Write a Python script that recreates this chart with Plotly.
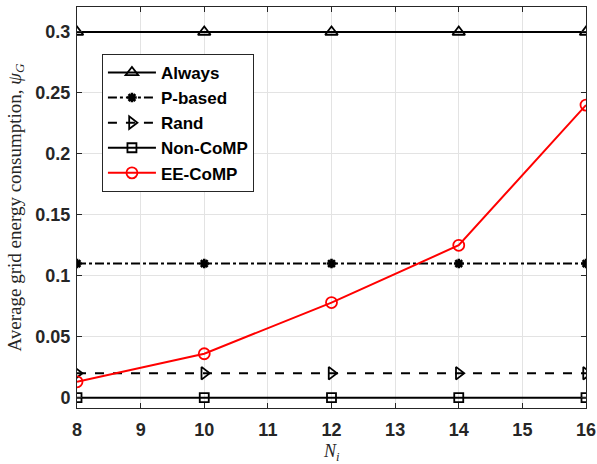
import plotly.graph_objects as go

x_vals = [8, 10, 12, 14, 16]
always = [0.3, 0.3, 0.3, 0.3, 0.3]
p_based = [0.11, 0.11, 0.11, 0.11, 0.11]
rand = [0.02, 0.02, 0.02, 0.02, 0.02]
non_comp = [0.0, 0.0, 0.0, 0.0, 0.0]
ee_comp = [0.013, 0.036, 0.078, 0.125, 0.24]

x_ticks = [8, 9, 10, 11, 12, 13, 14, 15, 16]
y_ticks = [0, 0.05, 0.1, 0.15, 0.2, 0.25, 0.3]
y_tick_text = ["0", "0.05", "0.1", "0.15", "0.2", "0.25", "0.3"]

fig = go.Figure()

def add(name, y, color, dash, symbol, size, mlw=1.8):
    fig.add_trace(go.Scatter(
        x=x_vals, y=y, name=name, mode="lines+markers",
        line=dict(color=color, width=2, dash=dash),
        marker=dict(symbol=symbol, size=size, color=color,
                    line=dict(color=color, width=mlw)),
    ))

add("Always", always, "black", "solid", "triangle-up-open", 11)
add("P-based", p_based, "black", "dashdot", "asterisk-open", 8, 2.6)
add("Rand", rand, "black", "dash", "triangle-right-open", 11)
add("Non-CoMP", non_comp, "black", "solid", "square-open", 9)
add("EE-CoMP", ee_comp, "red", "solid", "circle-open", 11)

tick_font = dict(family="Liberation Sans, Arial", size=18, color="#262626", weight="bold")
axis_common = dict(
    showline=True, linecolor="#262626", linewidth=1, mirror="ticks",
    ticks="inside", ticklen=5, tickcolor="#262626",
    showgrid=True, gridcolor="#e3e3e3", gridwidth=1, zeroline=False,
    tickfont=tick_font, automargin=False,
)

fig.update_layout(
    width=597, height=464,
    margin=dict(l=77, r=11, t=7, b=56, autoexpand=False),
    paper_bgcolor="white", plot_bgcolor="white",
    xaxis=dict(range=[8, 16], tickvals=x_ticks, ticklabelstandoff=5, **axis_common),
    yaxis=dict(range=[-0.0085, 0.3205], tickvals=y_ticks, ticktext=y_tick_text,
               ticklabelstandoff=2, **axis_common),
    showlegend=True,
    legend=dict(
        x=0.049, y=0.883, xanchor="left", yanchor="top",
        bgcolor="white", bordercolor="#262626", borderwidth=1,
        font=dict(family="Liberation Sans, Arial", size=17, color="black", weight="bold"),
        tracegroupgap=0, itemwidth=48,
    ),
    annotations=[
        dict(text="Average grid energy consumption, <i>ψ<sub>G</sub></i>",
             x=0, y=0.5, xref="paper", yref="paper", xanchor="center", yanchor="middle",
             xshift=-62, showarrow=False, textangle=-90,
             font=dict(family="Liberation Serif, DejaVu Serif", size=19, color="#262626")),
        dict(text="<i>N<sub>i</sub></i>",
             x=0.5, y=0, xref="paper", yref="paper", xanchor="center", yanchor="middle",
             yshift=-44, showarrow=False,
             font=dict(family="Liberation Serif, DejaVu Serif", size=18, color="#262626")),
    ],
)

fig.write_html("out.html")
